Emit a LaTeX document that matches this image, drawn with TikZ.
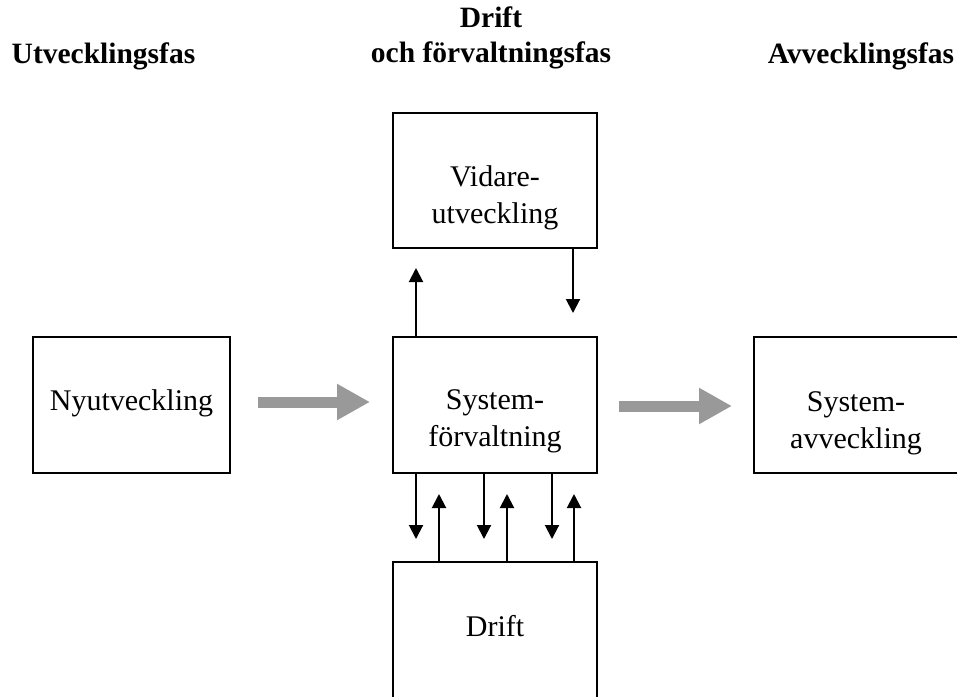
\documentclass[tikz,border=0pt]{standalone}
\usepackage{fontspec}
\setmainfont{Liberation Serif}
\usetikzlibrary{arrows.meta,calc}
\definecolor{phasegray}{RGB}{153,153,153}
\tikzset{
  box/.style={draw, line width=2pt, minimum width=204pt, minimum height=136pt,
    inner sep=0pt, outer sep=0pt},
  boxtext/.style={align=center, inner sep=0pt, font=\fontsize{30pt}{37pt}\selectfont},
  head/.style={align=center, inner sep=0pt, font=\bfseries\fontsize{29.5pt}{35pt}\selectfont},
  link/.style={line width=2pt, -{Triangle[length=14pt,width=14pt]}},
  phase/.style={line width=11pt, draw=phasegray, fill=phasegray,
    -{Triangle[length=33pt,width=34pt]}},
}
\begin{document}
\begin{tikzpicture}[x=1pt,y=-1pt]
  \clip (0,0) rectangle (957,696);

  % phase headings
  \node[head, anchor=base] (hdev) at (103.5,63) {Utvecklingsfas};
  \node[head, anchor=south, text depth=0pt] (hops) at (491,63) {Drift\\och förvaltningsfas};
  \node[head, anchor=base] (hend) at (861,63) {Avvecklingsfas};

  % boxes
  \node[box, minimum width=197pt] (ny) at (131.5,405) {};
  \node[box, minimum height=135pt] (vid) at (495,180.5) {};
  \node[box] (sys) at (495,405) {};
  \node[box, minimum width=210pt] (avv) at (859,405) {};
  \node[box, minimum height=138pt] (drift) at (495,631) {};

  % box texts
  \node[boxtext] (nyt) at ($(ny.center)+(0,-2)$) {Nyutveckling};
  \node[boxtext] (vidt) at ($(vid.center)+(0,17)$) {Vidare-\\utveckling};
  \node[boxtext] (syst) at ($(sys.center)+(0,16)$) {System-\\förvaltning};
  \node[boxtext] (avvt) at ($(avv.west)+(102,18)$) {System-\\avveckling};
  \node[boxtext] (driftt) at ($(drift.north)+(0,64)$) {Drift};

  % transitions between phases
  \draw[phase] ($(ny.east)+(28,-3)$) -- ($(sys.west)+(-23,-3)$);
  \draw[phase] ($(sys.east)+(22,1)$) -- ($(avv.west)+(-22,1)$);

  % further development loop
  \draw[link] ($(sys.north west)+(23,0)$) -- ($(vid.south west)+(23,20)$);
  \draw[link] ($(vid.south west)+(180,0)$) -- ($(sys.north west)+(180,-24)$);

  % exchange with operations
  \foreach \dx in {23,91,159}
    \draw[link] ($(sys.south west)+(\dx,0)$) -- ($(drift.north west)+(\dx,-23)$);
  \foreach \dx in {46,114,181}
    \draw[link] ($(drift.north west)+(\dx,0)$) -- ($(sys.south west)+(\dx,21)$);
\end{tikzpicture}
\end{document}
